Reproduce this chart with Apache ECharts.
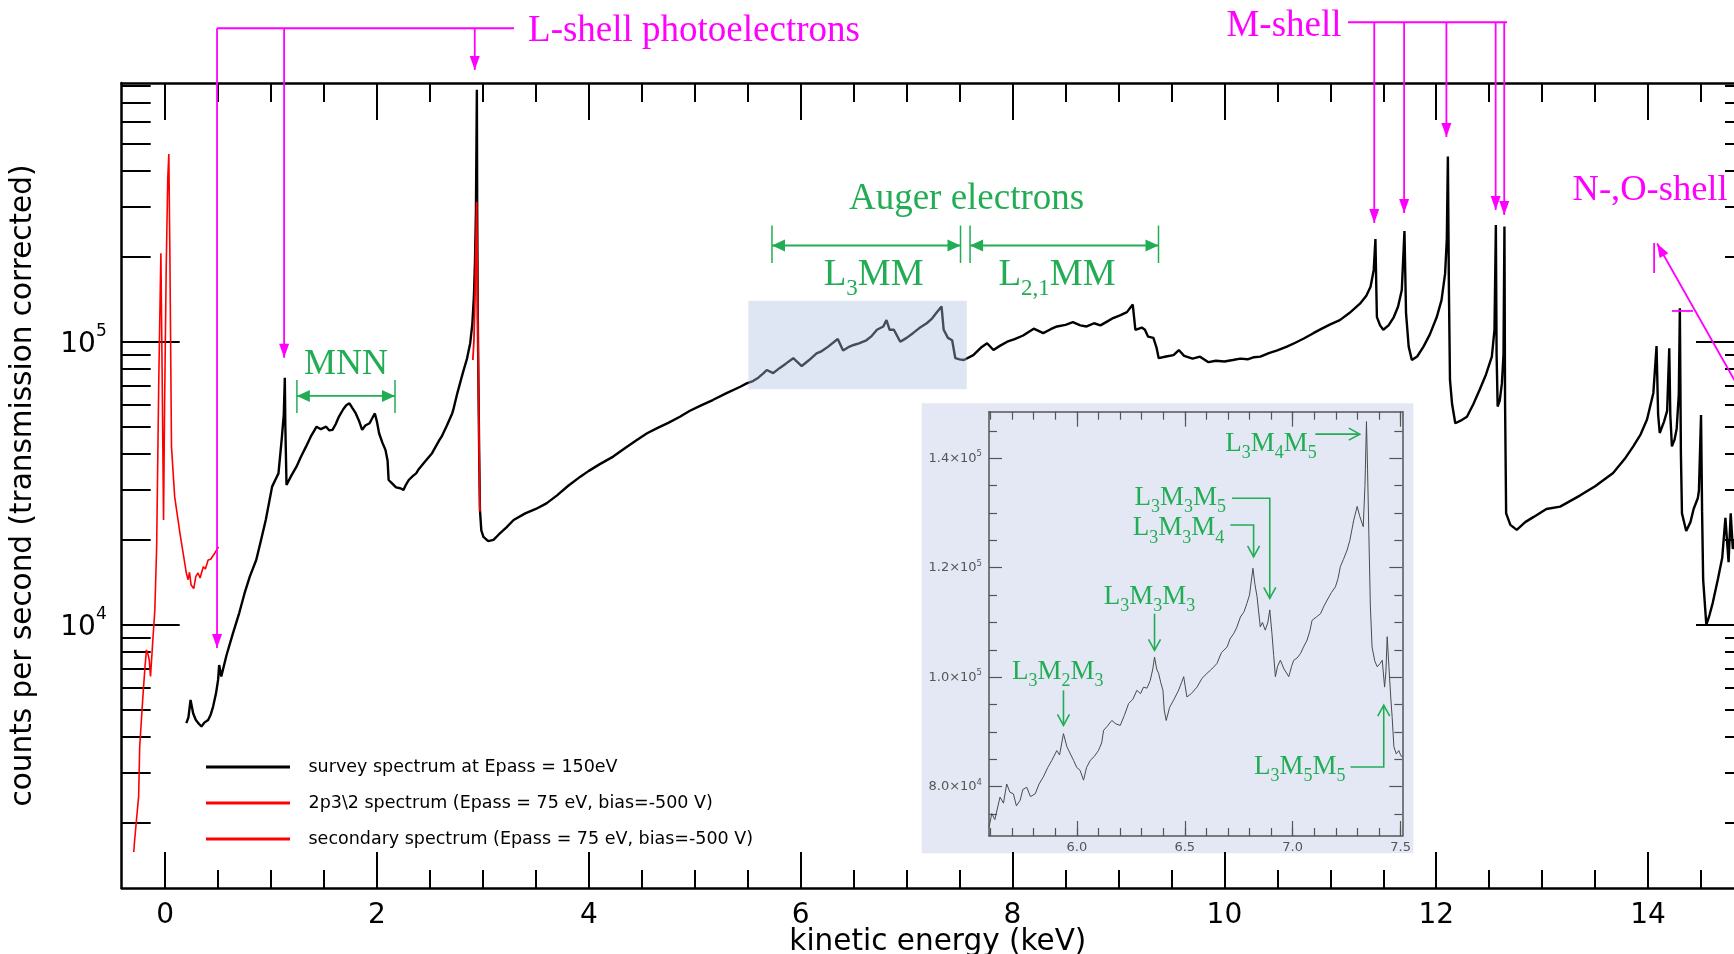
<!DOCTYPE html>
<html>
<head>
<meta charset="utf-8">
<script src="https://cdn.jsdelivr.net/npm/echarts@6.0.0/dist/echarts.min.js"></script>
<style>
html,body{margin:0;padding:0;background:#ffffff;}
#chart{width:1734px;height:954px;}
</style>
</head>
<body>
<div id="chart"></div>
<script>
// ---------------- DATA ----------------
// survey spectrum: [kinetic energy keV, counts per second]
const surveySpectrum = [
[0.20,4480],[0.22,4700],[0.24,5410],[0.265,4850],[0.29,4600],[0.32,4450],[0.343,4360],[0.37,4500],[0.406,4600],[0.43,4800],
[0.453,5130],[0.48,5700],[0.50,6370],[0.51,7190],[0.53,6550],[0.58,7800],[0.64,9300],[0.70,11000],[0.75,12900],[0.80,14800],
[0.86,16900],[0.90,19500],[0.95,23400],[1.01,30700],[1.05,33000],[1.07,34200],[1.10,44900],[1.12,55000],[1.13,74400],[1.135,50000],
[1.146,31100],[1.19,33500],[1.24,36100],[1.28,39000],[1.33,42500],[1.38,46500],[1.43,50000],[1.47,49000],[1.52,50000],[1.55,48500],
[1.58,48700],[1.61,51000],[1.64,54200],[1.68,57500],[1.71,59500],[1.74,60500],[1.77,58000],[1.80,55700],[1.83,52500],[1.86,48700],
[1.89,50500],[1.93,51400],[1.96,54000],[1.98,55700],[2.00,52000],[2.02,47400],[2.05,44000],[2.08,41400],[2.10,38000],[2.11,32400],
[2.14,31600],[2.18,30500],[2.22,30300],[2.25,29900],[2.27,31000],[2.30,32400],[2.34,33500],[2.37,34200],[2.39,35200],[2.45,37500],
[2.52,40300],[2.59,44900],[2.61,46100],[2.66,50500],[2.71,55700],[2.72,57300],[2.76,66000],[2.81,77300],[2.85,87000],[2.88,98600],
[2.90,115000],[2.915,144000],[2.925,190000],[2.934,284000],[2.943,775000],[2.946,300000],[2.952,120000],[2.958,70000],[2.965,40000],[2.972,25400],
[2.985,21500],[3.005,20400],[3.05,19700],[3.10,19900],[3.15,20800],[3.22,22000],[3.29,23400],[3.40,24700],[3.50,25600],[3.60,26800],
[3.70,28600],[3.80,30800],[3.92,33300],[4.00,34900],[4.10,36800],[4.23,39200],[4.35,42200],[4.45,44800],[4.55,47400],[4.65,49500],
[4.75,51600],[4.86,54200],[4.95,56800],[5.05,59200],[5.17,62100],[5.30,65700],[5.43,69200],[5.49,71100],[5.55,72500],[5.60,74500],
[5.65,77300],[5.68,79300],[5.74,77300],[5.80,80500],[5.86,83500],[5.93,87300],[6.01,81900],[6.08,86000],[6.15,90800],[6.20,92500],
[6.26,95900],[6.35,102000],[6.40,92900],[6.45,95500],[6.50,97200],[6.55,98500],[6.62,101000],[6.67,104500],[6.72,110000],[6.78,113000],
[6.81,119000],[6.84,110000],[6.88,110000],[6.94,99800],[7.00,103000],[7.06,107000],[7.12,111500],[7.19,116000],[7.24,120500],[7.28,126000],
[7.33,133000],[7.35,110000],[7.39,103000],[7.43,101000],[7.46,87300],[7.50,86500],[7.54,86000],[7.63,89500],[7.70,95000],[7.76,98600],
[7.82,93300],[7.88,96500],[7.95,99800],[8.02,102000],[8.10,105000],[8.20,111000],[8.29,107000],[8.36,110500],[8.42,113000],[8.50,114500],
[8.57,117000],[8.64,114000],[8.70,113000],[8.77,116000],[8.83,114000],[8.90,118000],[8.95,121000],[9.02,124000],[9.08,127000],[9.135,135000],
[9.16,110000],[9.22,112000],[9.25,110000],[9.28,104000],[9.33,103000],[9.36,95000],[9.38,87300],[9.45,88500],[9.52,89500],[9.57,93300],
[9.62,89000],[9.70,87000],[9.77,88400],[9.85,84500],[9.92,85500],[10.00,85000],[10.08,86000],[10.15,87000],[10.22,86500],[10.28,88000],
[10.34,88400],[10.42,91000],[10.50,93000],[10.59,95900],[10.67,99000],[10.75,102500],[10.84,107000],[10.92,111000],[11.00,115000],[11.09,119000],
[11.18,126000],[11.28,136000],[11.34,145000],[11.38,156000],[11.41,179000],[11.426,230000],[11.435,150000],[11.44,122000],[11.47,114000],[11.50,110000],
[11.55,114000],[11.60,122000],[11.64,133000],[11.675,152000],[11.70,245500],[11.715,126000],[11.74,95900],[11.77,86000],[11.82,88500],[11.88,95900],
[11.94,106000],[12.005,122000],[12.05,140000],[12.084,174000],[12.10,230000],[12.11,450000],[12.12,150000],[12.13,73000],[12.15,60000],[12.18,51400],
[12.23,52500],[12.29,54200],[12.35,60000],[12.41,67500],[12.47,76500],[12.525,88400],[12.55,110000],[12.563,258000],[12.57,90000],[12.58,58900],
[12.60,62000],[12.62,71100],[12.635,90000],[12.644,255000],[12.65,60000],[12.66,24700],[12.70,22500],[12.76,21600],[12.84,23000],[12.92,24000],
[13.04,25600],[13.17,26100],[13.36,28600],[13.50,30800],[13.67,34300],[13.78,38500],[13.86,42600],[13.93,47000],[13.99,53000],[14.05,65800],
[14.08,96400],[14.095,55000],[14.11,47500],[14.15,52000],[14.18,56900],[14.20,94600],[14.21,55000],[14.225,42600],[14.25,45000],[14.27,49200],
[14.29,65000],[14.30,131000],[14.31,40000],[14.32,24700],[14.36,21400],[14.40,23000],[14.43,25600],[14.47,28000],[14.48,29700],[14.50,55000],
[14.51,25000],[14.52,14400],[14.55,9960],[14.58,10800],[14.61,11900],[14.66,14500],[14.70,17200],[14.73,23800],[14.76,16600],[14.78,24700],
[14.80,18500],[14.82,20000]
];
// 2p3/2 spectrum (red, at the L3 photoelectron line)
const p32Spectrum = [
[2.905,86000],[2.915,100000],[2.925,140000],[2.935,230000],[2.941,312000],[2.946,200000],[2.952,120000],[2.958,70000],[2.965,40000],[2.972,25100]
];
// secondary electron spectrum (red, near 0 keV)
const secondarySpectrum = [
[-0.296,1570],[-0.29,1690],[-0.27,2050],[-0.25,2470],[-0.24,3700],[-0.21,5560],[-0.19,7100],[-0.176,8130],[-0.16,7800],[-0.15,7490],
[-0.138,6550],[-0.12,8350],[-0.097,11300],[-0.08,18800],[-0.06,73000],[-0.045,160000],[-0.04,205000],[-0.03,90000],[-0.015,23400],[-0.005,60000],
[0.01,180000],[0.025,380000],[0.035,460000],[0.045,200000],[0.06,42500],[0.09,28300],[0.14,21000],[0.186,16400],[0.20,15200],[0.217,14400],
[0.23,15300],[0.245,13800],[0.27,13400],[0.29,14800],[0.31,15200],[0.33,14600],[0.36,16000],[0.38,15700],[0.406,16900],[0.43,17000],
[0.47,17900],[0.504,18800]
];
// inset: L3MM Auger region (linear scale)
const insetSpectrum = [
[5.593,72600],[5.606,75100],[5.62,74000],[5.644,78100],[5.66,77000],[5.675,80500],[5.69,79000],[5.706,78700],[5.72,76500],[5.737,77500],
[5.75,79500],[5.768,79900],[5.785,78200],[5.807,78700],[5.825,80500],[5.845,81800],[5.865,83500],[5.884,84800],[5.907,86600],[5.92,85800],
[5.938,89700],[5.954,87300],[5.97,86000],[5.985,84800],[6.0,83500],[6.015,83000],[6.031,81200],[6.045,83500],[6.062,84800],[6.08,85500],
[6.100,86600],[6.115,88000],[6.124,90300],[6.14,91000],[6.162,92100],[6.18,91500],[6.201,91200],[6.22,93000],[6.240,95200],[6.26,96000],
[6.278,97600],[6.295,97000],[6.309,98200],[6.325,98000],[6.340,99400],[6.352,101500],[6.360,103700],[6.37,101500],[6.379,100700],[6.389,99000],
[6.399,97600],[6.405,94000],[6.414,92100],[6.43,94500],[6.448,95800],[6.47,97500],[6.485,99000],[6.495,100100],[6.510,96400],[6.53,97000],
[6.557,98200],[6.58,99800],[6.603,100700],[6.625,101500],[6.649,102500],[6.67,104500],[6.696,105500],[6.71,107000],[6.727,108000],[6.74,109000],
[6.758,111000],[6.775,112000],[6.788,113500],[6.80,115000],[6.816,119900],[6.825,117000],[6.835,114700],[6.850,109200],[6.86,110000],[6.873,108600],
[6.885,110000],[6.894,112300],[6.904,108000],[6.912,104000],[6.920,100100],[6.93,102000],[6.943,103100],[6.96,101500],[6.982,100100],[6.995,102000],
[7.005,103100],[7.02,103500],[7.036,104300],[7.05,105500],[7.067,106800],[7.08,108500],[7.090,110400],[7.11,111000],[7.129,111600],[7.145,113000],
[7.160,114100],[7.18,115500],[7.198,116500],[7.21,118000],[7.221,120200],[7.235,121500],[7.252,123200],[7.265,125000],[7.283,128700],[7.299,131200],
[7.31,129500],[7.327,127500],[7.335,135000],[7.342,146700],[7.347,138000],[7.353,126300],[7.36,113000],[7.368,105500],[7.38,103000],[7.392,101900],
[7.405,102500],[7.415,103100],[7.426,98200],[7.432,101000],[7.438,107400],[7.446,101900],[7.455,96000],[7.461,92700],[7.469,87300],[7.48,86000],
[7.492,86600],[7.5,85800],[7.508,85400]
];
const legendNames = [
  'survey spectrum at Epass = 150eV',
  '2p3\\2 spectrum (Epass = 75 eV, bias=-500 V)',
  'secondary spectrum (Epass = 75 eV, bias=-500 V)'
];
// tick values
const xMajorTicks = [0, 2, 4, 6, 8, 10, 12, 14];
const xMinorTicks = [0,0.5,1,1.5,2,2.5,3,3.5,4,4.5,5,5.5,6,6.5,7,7.5,8,8.5,9,9.5,10,10.5,11,11.5,12,12.5,13,13.5,14,14.5];
const yMajorTicks = [1e4, 1e5];
const yMinorTicks = [2e3,3e3,4e3,5e3,6e3,7e3,8e3,9e3,2e4,3e4,4e4,5e4,6e4,7e4,8e4,9e4,2e5,3e5,4e5,5e5,6e5,7e5,8e5];
const insetXMajorTicks = [6.0, 6.5, 7.0, 7.5];
const insetXMinorTicks = [5.6,5.7,5.8,5.9,6.0,6.1,6.2,6.3,6.4,6.5,6.6,6.7,6.8,6.9,7.0,7.1,7.2,7.3,7.4,7.5];
const insetYMajorTicks = [80000, 100000, 120000, 140000];
const insetYMinorTicks = [75000,85000,90000,95000,105000,110000,115000,125000,130000,135000,145000];

// axis ranges
const X_MIN = -0.41, X_MAX = 15;
const LOG_MIN = 3.0689, LOG_MAX = 5.9134;
const INSET_X = [5.593, 7.508], INSET_Y = [71000, 148500];

// ---------------- STYLE ----------------
const SANS = 'DejaVu Sans', SERIF = 'Liberation Serif';
const MAG = '#ff00ff', GRN = '#22ad55', INK = '#000000', IGRAY = '#555555';

const chart = echarts.init(document.getElementById('chart'), null, {renderer: 'canvas'});

function tickAxis(grid, min, max, pos, vals, len, color, lineShow, lineW, tickW) {
  return {type: 'value', gridIndex: grid, min: min, max: max, position: pos,
    axisLine: {show: lineShow, onZero: false, lineStyle: {color: color, width: lineW}},
    axisTick: {show: true, inside: true, length: len, customValues: vals, lineStyle: {color: color, width: tickW}},
    axisLabel: {show: false}, splitLine: {show: false}};
}
const lg = v => Math.log10(v);

// main bottom (labelled)
const xMain = tickAxis(0, X_MIN, X_MAX, 'bottom', xMajorTicks, 36, INK, true, 2.5, 2);
xMain.axisLabel = {show: true, customValues: xMajorTicks, margin: 14, fontSize: 28, fontFamily: SANS, color: INK};
xMain.name = 'kinetic energy (keV)';
xMain.nameLocation = 'middle';
xMain.nameGap = 39;
xMain.nameMoveOverlap = false;
xMain.nameTextStyle = {fontSize: 29.5, fontFamily: SANS, color: INK};

// inset bottom (labelled)
const xInset = tickAxis(1, INSET_X[0], INSET_X[1], 'bottom', insetXMajorTicks, 15, IGRAY, true, 1.5, 1.2);
xInset.axisLabel = {show: true, customValues: insetXMajorTicks, margin: 5, fontSize: 13, fontFamily: SANS, color: IGRAY,
  formatter: v => Number(v).toFixed(1)};

const yLeft = tickAxis(0, LOG_MIN, LOG_MAX, 'left', yMajorTicks.map(lg), 58, INK, true, 2.5, 2);
yLeft.axisLabel = {show: true, customValues: yMajorTicks.map(lg), margin: 15,
  formatter: v => '{b|10}{s|' + Math.round(v) + '}',
  rich: {b: {fontSize: 28, fontFamily: SANS, color: INK, lineHeight: 36, padding: [6, 0, 0, 0]},
         s: {fontSize: 17, fontFamily: SANS, color: INK, lineHeight: 17, verticalAlign: 'top'}}};
yLeft.name = 'counts per second (transmission corrected)';
yLeft.nameLocation = 'middle';
yLeft.nameGap = 83;
yLeft.nameTextStyle = {fontSize: 29.5, fontFamily: SANS, color: INK};

const yInset = tickAxis(1, INSET_Y[0], INSET_Y[1], 'left', insetYMajorTicks, 13, IGRAY, true, 1.5, 1.2);
yInset.axisLabel = {show: true, customValues: insetYMajorTicks, margin: 7,
  formatter: v => { const e = Math.floor(Math.log10(v) + 1e-9); const m = v / Math.pow(10, e);
    return '{b|' + m.toFixed(1) + '\u00d710}{s|' + e + '}'; },
  rich: {b: {fontSize: 13, fontFamily: SANS, color: IGRAY, lineHeight: 17},
         s: {fontSize: 8.5, fontFamily: SANS, color: IGRAY, lineHeight: 8.5, verticalAlign: 'top'}}};

const option = {
  animation: false,
  backgroundColor: '#ffffff',
  textStyle: {fontFamily: SANS},
  grid: [
    {left: 121.7, top: 83, width: 1632.3, height: 805, containLabel: false, outerBoundsMode: 'none'},
    {left: 989, top: 411.7, width: 413.3, height: 424.3, containLabel: false, outerBoundsMode: 'none'}
  ],
  legend: {
    data: legendNames, orient: 'vertical', left: 206, top: 758, padding: 0,
    itemWidth: 84, itemHeight: 3, icon: 'rect', itemGap: 18,
    selectedMode: false,
    textStyle: {fontSize: 17.5, fontFamily: SANS, color: INK, lineHeight: 18, padding: [0, 0, 0, 13.5]}
  },
  xAxis: [
    xMain,                                                                         // 0
    tickAxis(0, X_MIN, X_MAX, 'bottom', xMinorTicks, 18, INK, false, 2.5, 2),      // 1
    tickAxis(0, X_MIN, X_MAX, 'top', xMajorTicks, 37, INK, true, 2.5, 2),          // 2
    tickAxis(0, X_MIN, X_MAX, 'top', xMinorTicks, 19, INK, false, 2.5, 2),         // 3
    xInset,                                                                        // 4
    tickAxis(1, INSET_X[0], INSET_X[1], 'bottom', insetXMinorTicks, 8, IGRAY, false, 1.5, 1.2), // 5
    tickAxis(1, INSET_X[0], INSET_X[1], 'top', insetXMajorTicks, 15, IGRAY, true, 1.5, 1.2),    // 6
    tickAxis(1, INSET_X[0], INSET_X[1], 'top', insetXMinorTicks, 8, IGRAY, false, 1.5, 1.2)     // 7
  ],
  yAxis: [
    {type: 'log', gridIndex: 0, min: Math.pow(10, LOG_MIN), max: Math.pow(10, LOG_MAX), show: false,
     axisLine: {onZero: false}, splitLine: {show: false}},                                          // 0 data axis
    yLeft,                                                                                          // 1
    tickAxis(0, LOG_MIN, LOG_MAX, 'left', yMinorTicks.map(lg), 29, INK, false, 2.5, 2),             // 2
    tickAxis(0, LOG_MIN, LOG_MAX, 'right', yMajorTicks.map(lg), 58, INK, true, 2.5, 2),             // 3
    tickAxis(0, LOG_MIN, LOG_MAX, 'right', yMinorTicks.map(lg), 29, INK, false, 2.5, 2),            // 4
    yInset,                                                                                         // 5
    tickAxis(1, INSET_Y[0], INSET_Y[1], 'left', insetYMinorTicks, 8, IGRAY, false, 1.5, 1.2),       // 6
    tickAxis(1, INSET_Y[0], INSET_Y[1], 'right', insetYMajorTicks, 13, IGRAY, true, 1.5, 1.2),      // 7
    tickAxis(1, INSET_Y[0], INSET_Y[1], 'right', insetYMinorTicks, 8, IGRAY, false, 1.5, 1.2)       // 8
  ],
  series: [
    {name: legendNames[0], type: 'line', xAxisIndex: 0, yAxisIndex: 0, data: surveySpectrum,
     showSymbol: false, symbol: 'none', silent: true, z: 3,
     lineStyle: {color: INK, width: 2.4}, itemStyle: {color: INK}},
    {name: legendNames[1], type: 'line', xAxisIndex: 0, yAxisIndex: 0, data: p32Spectrum,
     showSymbol: false, symbol: 'none', silent: true, z: 4,
     lineStyle: {color: '#ff0000', width: 1.8}, itemStyle: {color: '#ff0000'}},
    {name: legendNames[2], type: 'line', xAxisIndex: 0, yAxisIndex: 0, data: secondarySpectrum,
     showSymbol: false, symbol: 'none', silent: true, z: 4,
     lineStyle: {color: '#ff0000', width: 1.6}, itemStyle: {color: '#ff0000'}},
    {name: 'highlight', type: 'line', xAxisIndex: 0, yAxisIndex: 0, data: [], silent: true, z: 6,
     markArea: {silent: true, z: 10, itemStyle: {color: 'rgba(176,192,224,0.40)'},
       data: [[{coord: [5.506, 6.78e4]}, {coord: [7.568, 1.394e5]}]]}},
    {name: 'inset', type: 'line', xAxisIndex: 4, yAxisIndex: 5, data: insetSpectrum,
     showSymbol: false, symbol: 'none', silent: true, z: 3,
     lineStyle: {color: '#4b4b4b', width: 1}, itemStyle: {color: '#4b4b4b'}}
  ]
};
chart.setOption(option);

// ---------------- ANNOTATIONS (anchored in data coordinates) ----------------
const lShellBracket = {y: 1.279e6, from: 0.490, to: 3.294};
const lShellTips = [[0.490, 8.26e3], [1.1234, 8.76e4], [2.923, 9.11e5]];
const lShellLabel = [3.426, 1.251e6];
const mShellBracket = {y: 1.343e6, from: 11.167, to: 12.668};
const mShellTips = [[11.415, 2.623e5], [11.697, 2.845e5], [12.096, 5.28e5], [12.561, 2.916e5], [12.642, 2.80e5]];
const mShellLabel = [10.563, 1.30e6];
const noShellLabel = [14.019, 3.43e5];
const noShellBar = [[14.057, 2.228e5], [14.057, 1.746e5]];
const noShellArrow = [[15.151, 4.38e4], [14.085, 2.22e5]];
const noShellTick = [[14.226, 1.282e5], [14.424, 1.282e5]];
const mnnRange = {y: 6.42e4, from: 1.244, to: 2.170, barTop: 7.31e4, barBottom: 5.59e4};
const mnnLabel = [1.708, 8.26e4];
const augerLabel = [7.566, 3.188e5];
const l3mmRange = {y: 2.184e5, from: 5.729, to: 7.509, barTop: 2.568e5, barBottom: 1.894e5};
const l21mmRange = {y: 2.184e5, from: 7.599, to: 9.378, barTop: 2.568e5, barBottom: 1.894e5};
const l3mmLabel = [6.689, 1.71e5];
const l21mmLabel = [8.420, 1.71e5];
const insetNotes = [
  {label: ['L', '3', 'M', '2', 'M', '3'], at: [5.912, 101000], path: [[5.938, 97600], [5.938, 91200]]},
  {label: ['L', '3', 'M', '3', 'M', '3'], at: [6.337, 114700], path: [[6.360, 111600], [6.360, 104900]]},
  {label: ['L', '3', 'M', '3', 'M', '4'], at: [6.4715, 127200], path: [[6.711, 127800], [6.819, 127800], [6.819, 122000]]},
  {label: ['L', '3', 'M', '3', 'M', '5'], at: [6.479, 132700], path: [[6.719, 132700], [6.894, 132700], [6.894, 114400]]},
  {label: ['L', '3', 'M', '4', 'M', '5'], at: [6.900, 142700], path: [[7.105, 144400], [7.311, 144400]]},
  {label: ['L', '3', 'M', '5', 'M', '5'], at: [7.033, 83600], path: [[7.268, 83600], [7.422, 83600], [7.422, 94900]]}
];

function buildGraphics() {
  const P = (k, v) => chart.convertToPixel({xAxisIndex: 0, yAxisIndex: 0}, [k, v]);
  const Q = (k, v) => chart.convertToPixel({xAxisIndex: 4, yAxisIndex: 5}, [k, v]);
  const els = [];
  els.push({type: 'rect', shape: {x: 921.7, y: 403.3, width: 491.6, height: 450}, style: {fill: '#e3e8f4'}, z: -1, silent: true});
  const seg = (a, b, color, w) => els.push({type: 'line', shape: {x1: a[0], y1: a[1], x2: b[0], y2: b[1]},
    style: {stroke: color, lineWidth: w}, z: 100, silent: true});
  const pline = (pts, color, w) => els.push({type: 'polyline', shape: {points: pts},
    style: {stroke: color, lineWidth: w, fill: null}, z: 100, silent: true});
  const head = (tip, from, len, hw, color, filled) => {
    const dx = tip[0] - from[0], dy = tip[1] - from[1];
    const L = Math.hypot(dx, dy) || 1, ux = dx / L, uy = dy / L;
    const bx = tip[0] - ux * len, by = tip[1] - uy * len;
    const p1 = [bx - uy * hw, by + ux * hw], p2 = [bx + uy * hw, by - ux * hw];
    if (filled) els.push({type: 'polygon', shape: {points: [tip, p1, p2]}, style: {fill: color}, z: 101, silent: true});
    else els.push({type: 'polyline', shape: {points: [p1, tip, p2]}, style: {stroke: color, lineWidth: 1.6, fill: null}, z: 101, silent: true});
  };
  const txt = (pos, str, color, size, align) => els.push({type: 'text', x: pos[0], y: pos[1], z: 102, silent: true,
    style: {text: str, fill: color, font: size + 'px "' + SERIF + '"', fontSize: size, fontFamily: SERIF,
      align: align, textAlign: align, verticalAlign: 'middle', textVerticalAlign: 'middle'}});
  const subTxt = (pos, parts, color, size, subSize, lineH, align) => {
    let s = '';
    parts.forEach((p, i) => { s += (i % 2 === 0 ? '{n|' : '{s|') + p + '}'; });
    els.push({type: 'text', x: pos[0], y: pos[1], z: 102, silent: true,
      style: {text: s, align: align, textAlign: align, verticalAlign: 'middle', textVerticalAlign: 'middle',
        rich: {n: {fontSize: size, fontFamily: SERIF, fill: color, lineHeight: lineH},
               s: {fontSize: subSize, fontFamily: SERIF, fill: color, lineHeight: subSize, verticalAlign: 'bottom'}}}});
  };

  // L-shell photoelectrons
  seg(P(lShellBracket.from, lShellBracket.y), P(lShellBracket.to, lShellBracket.y), MAG, 1.8);
  lShellTips.forEach(t => {
    const a = P(t[0], lShellBracket.y), b = P(t[0], t[1]);
    seg(a, b, MAG, 1.8); head(b, a, 14, 5, MAG, true);
  });
  txt(P(lShellLabel[0], lShellLabel[1]), 'L-shell photoelectrons', MAG, 37, 'left');

  // M-shell
  seg(P(mShellBracket.from, mShellBracket.y), P(mShellBracket.to, mShellBracket.y), MAG, 1.8);
  mShellTips.forEach(t => {
    const a = P(t[0], mShellBracket.y), b = P(t[0], t[1]);
    seg(a, b, MAG, 1.8); head(b, a, 14, 5, MAG, true);
  });
  txt(P(mShellLabel[0], mShellLabel[1]), 'M-shell', MAG, 37, 'center');

  // N-,O-shell
  txt(P(noShellLabel[0], noShellLabel[1]), 'N-,O-shell', MAG, 36.5, 'center');
  seg(P(noShellBar[0][0], noShellBar[0][1]), P(noShellBar[1][0], noShellBar[1][1]), MAG, 1.8);
  {
    const a = P(noShellArrow[0][0], noShellArrow[0][1]), b = P(noShellArrow[1][0], noShellArrow[1][1]);
    seg(a, b, MAG, 1.8); head(b, a, 14, 5, MAG, true);
  }
  seg(P(noShellTick[0][0], noShellTick[0][1]), P(noShellTick[1][0], noShellTick[1][1]), MAG, 1.8);

  // green ranges with double arrows
  const range = (r) => {
    const a = P(r.from, r.y), b = P(r.to, r.y);
    seg(a, b, GRN, 1.8); head(a, b, 13, 6, GRN, true); head(b, a, 13, 6, GRN, true);
    seg(P(r.from, r.barTop), P(r.from, r.barBottom), GRN, 1.5);
    seg(P(r.to, r.barTop), P(r.to, r.barBottom), GRN, 1.5);
  };
  range(mnnRange); range(l3mmRange); range(l21mmRange);
  txt(P(mnnLabel[0], mnnLabel[1]), 'MNN', GRN, 36, 'center');
  txt(P(augerLabel[0], augerLabel[1]), 'Auger electrons', GRN, 37, 'center');
  subTxt(P(l3mmLabel[0], l3mmLabel[1]), ['L', '3', 'MM'], GRN, 37, 23, 50, 'center');
  subTxt(P(l21mmLabel[0], l21mmLabel[1]), ['L', '2,1', 'MM'], GRN, 37, 23, 50, 'center');

  // inset notes
  insetNotes.forEach(n => {
    const pts = n.path.map(p => Q(p[0], p[1]));
    pline(pts, GRN, 1.6);
    head(pts[pts.length - 1], pts[pts.length - 2], 11, 6, GRN, false);
    subTxt(Q(n.at[0], n.at[1]), n.label, GRN, 27, 18, 37, 'center');
  });
  return els;
}
chart.setOption({graphic: {elements: buildGraphics()}});
</script>
</body>
</html>
